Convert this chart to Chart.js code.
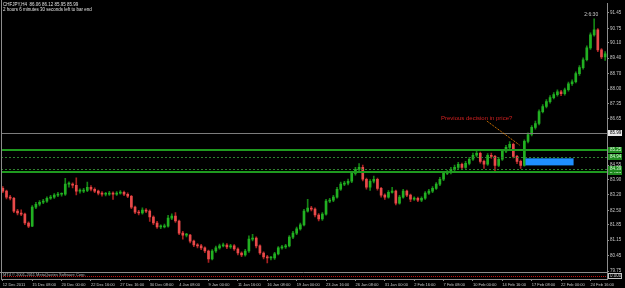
<!DOCTYPE html>
<html>
<head>
<meta charset="utf-8">
<script src="https://cdn.jsdelivr.net/npm/chart.js@4.4.1/dist/chart.umd.min.js"></script>
<style>
  html, body { margin: 0; padding: 0; background: #000; overflow: hidden; }
</style>
</head>
<body>
<canvas id="myChart" width="625" height="288"></canvas>
<script>
// CHFJPY H4, one candle per 8 hours
const tickLabels = ['12 Dec 2011', '15 Dec 08:00', '20 Dec 00:00', '22 Dec 16:00', '27 Dec 16:00',
  '30 Dec 08:00', '4 Jan 08:00', '9 Jan 00:00', '11 Jan 16:00', '16 Jan 08:00', '19 Jan 00:00',
  '23 Jan 16:00', '26 Jan 08:00', '31 Jan 00:00', '2 Feb 16:00', '7 Feb 08:00', '10 Feb 00:00',
  '14 Feb 16:00', '17 Feb 08:00', '22 Feb 00:00', '24 Feb 16:00'];

const closes = [
  83.37, 83.10, 83.05, 82.47, 82.38, 82.33, 81.93, 81.79, 82.65, 82.78,
  82.87, 82.92, 83.05, 83.10, 83.19, 83.23, 83.23, 83.69, 83.69, 83.64,
  83.37, 83.37, 83.41, 83.55, 83.46, 83.37, 83.28, 83.23, 83.23, 83.28,
  83.23, 83.28, 83.32, 83.23, 83.14, 82.65, 82.42, 82.38, 82.51, 82.47,
  82.20, 81.93, 81.75, 81.75, 81.79, 82.15, 82.24, 82.02, 81.47, 81.38,
  81.38, 81.11, 80.93, 80.89, 80.80, 80.66, 80.30, 80.66, 80.80, 80.89,
  80.93, 80.84, 80.89, 80.75, 80.57, 80.48, 80.66, 81.20, 81.25, 80.89,
  80.57, 80.39, 80.34, 80.34, 80.53, 80.80, 80.84, 80.89, 81.29, 81.47,
  81.66, 81.84, 82.47, 82.60, 82.56, 82.29, 82.11, 82.33, 82.92, 82.96,
  83.10, 83.46, 83.69, 83.73, 83.82, 84.18, 84.36, 84.45, 83.91, 83.55,
  83.82, 83.91, 83.50, 83.19, 83.10, 83.32, 83.37, 82.83, 83.10, 83.37,
  83.19, 83.01, 83.05, 82.96, 83.05, 83.28, 83.37, 83.50, 83.69, 83.91,
  84.18, 84.22, 84.36, 84.45, 84.59, 84.45, 84.63, 84.82, 85.00, 85.09,
  84.72, 84.59, 85.00, 84.95, 84.54, 84.82, 85.18, 85.36, 85.49, 84.95,
  84.72, 84.54, 85.63, 85.94, 86.26, 86.44, 86.98, 87.21, 87.43, 87.61,
  87.75, 87.88, 87.79, 87.97, 88.24, 88.33, 88.70, 88.97, 89.33, 89.87,
  90.46, 90.68, 89.78, 89.46, 89.60
];
const opens = [
  83.50, 83.37, 83.10, 83.05, 82.47, 82.38, 82.33, 81.93, 81.79, 82.65,
  82.78, 82.87, 82.92, 83.05, 83.10, 83.19, 83.23, 83.23, 83.69, 83.69,
  83.64, 83.37, 83.37, 83.41, 83.55, 83.46, 83.37, 83.28, 83.23, 83.23,
  83.28, 83.23, 83.28, 83.32, 83.23, 83.14, 82.65, 82.42, 82.38, 82.51,
  82.47, 82.20, 81.93, 81.75, 81.75, 81.79, 82.15, 82.24, 82.02, 81.47,
  81.38, 81.38, 81.11, 80.93, 80.89, 80.80, 80.66, 80.30, 80.66, 80.80,
  80.89, 80.93, 80.84, 80.89, 80.75, 80.57, 80.48, 80.66, 81.20, 81.25,
  80.89, 80.57, 80.39, 80.34, 80.34, 80.53, 80.80, 80.84, 80.89, 81.29,
  81.47, 81.66, 81.84, 82.47, 82.60, 82.56, 82.29, 82.11, 82.33, 82.92,
  82.96, 83.10, 83.46, 83.69, 83.73, 83.82, 84.18, 84.36, 84.45, 83.91,
  83.55, 83.82, 83.91, 83.50, 83.19, 83.10, 83.32, 83.37, 82.83, 83.10,
  83.37, 83.19, 83.01, 83.05, 82.96, 83.05, 83.28, 83.37, 83.50, 83.69,
  83.91, 84.18, 84.22, 84.36, 84.45, 84.59, 84.45, 84.63, 84.82, 85.00,
  85.09, 84.72, 84.59, 85.00, 84.95, 84.54, 84.82, 85.18, 85.36, 85.49,
  84.95, 84.72, 84.54, 85.63, 85.94, 86.26, 86.44, 86.98, 87.21, 87.43,
  87.61, 87.75, 87.88, 87.79, 87.97, 88.24, 88.33, 88.70, 88.97, 89.33,
  89.87, 90.46, 90.68, 89.78, 89.46
];
const highs = [
  83.58, 83.42, 83.18, 83.09, 82.55, 82.52, 82.38, 81.98, 82.72, 82.86,
  82.95, 83.00, 83.12, 83.18, 83.26, 83.32, 83.30, 83.95, 83.80, 83.75,
  83.98, 83.48, 83.50, 83.78, 83.62, 83.52, 83.42, 83.35, 83.32, 83.36,
  83.34, 83.35, 83.40, 83.38, 83.30, 83.18, 82.70, 82.50, 82.62, 82.58,
  82.52, 82.25, 82.00, 81.84, 81.88, 82.28, 82.34, 82.40, 82.06, 81.55,
  81.46, 81.42, 81.16, 81.00, 80.96, 80.85, 80.70, 80.72, 80.88, 80.97,
  81.02, 81.00, 80.96, 80.95, 80.80, 80.62, 80.74, 81.35, 81.42, 81.30,
  80.94, 80.62, 80.46, 80.42, 80.60, 80.86, 80.92, 80.96, 81.36, 81.55,
  81.74, 81.92, 82.55, 83.00, 82.68, 82.62, 82.36, 82.40, 83.00, 83.05,
  83.18, 83.55, 83.78, 83.82, 83.92, 84.26, 84.45, 84.62, 84.55, 83.96,
  83.90, 84.05, 83.96, 83.55, 83.25, 83.40, 83.55, 83.42, 83.18, 83.45,
  83.42, 83.24, 83.12, 83.10, 83.12, 83.35, 83.45, 83.58, 83.76, 84.00,
  84.26, 84.32, 84.45, 84.55, 84.68, 84.64, 84.72, 84.90, 85.10, 85.18,
  85.14, 84.78, 85.08, 85.10, 85.00, 84.90, 85.26, 85.45, 85.62, 85.55,
  85.00, 84.78, 85.70, 86.02, 86.34, 86.55, 87.06, 87.30, 87.52, 87.70,
  87.84, 87.96, 87.94, 88.05, 88.32, 88.42, 88.78, 89.06, 89.42, 89.96,
  90.55, 91.18, 90.74, 89.84, 89.70
];
const lows = [
  83.30, 83.02, 82.98, 82.40, 82.30, 82.26, 81.85, 81.72, 81.76, 82.58,
  82.70, 82.80, 82.86, 83.00, 83.04, 83.12, 83.15, 83.18, 83.55, 83.52,
  83.20, 83.28, 83.30, 83.35, 83.38, 83.30, 83.20, 83.15, 83.16, 83.18,
  83.00, 83.18, 83.24, 83.17, 83.08, 82.58, 82.35, 82.30, 82.33, 82.40,
  82.00, 81.85, 81.68, 81.67, 81.70, 81.74, 82.08, 81.95, 81.40, 81.20,
  81.30, 81.02, 80.85, 80.80, 80.72, 80.58, 80.14, 80.26, 80.60, 80.74,
  80.84, 80.77, 80.78, 80.68, 80.48, 80.40, 80.42, 80.60, 81.12, 80.80,
  80.50, 80.30, 80.12, 80.26, 80.28, 80.48, 80.74, 80.78, 80.84, 81.22,
  81.40, 81.60, 81.80, 82.42, 82.48, 82.20, 82.02, 82.05, 82.28, 82.85,
  82.90, 83.05, 83.40, 83.62, 83.66, 83.76, 84.10, 84.30, 83.84, 83.46,
  83.40, 83.75, 83.42, 83.10, 83.00, 83.05, 83.28, 82.75, 82.78, 83.05,
  83.12, 82.90, 82.95, 82.90, 82.90, 83.00, 83.22, 83.30, 83.45, 83.62,
  83.85, 84.12, 84.15, 84.30, 84.38, 84.38, 84.40, 84.56, 84.76, 84.92,
  84.64, 84.40, 84.54, 84.86, 84.22, 84.48, 84.76, 85.12, 85.30, 84.88,
  84.62, 84.40, 84.50, 85.56, 85.88, 86.18, 86.38, 86.92, 87.14, 87.36,
  87.55, 87.68, 87.70, 87.72, 87.90, 88.16, 88.28, 88.62, 88.90, 89.28,
  89.80, 90.40, 89.70, 89.38, 89.30
];

const yTicks = [91.45, 90.75, 90.10, 89.40, 88.70, 88.00, 87.35, 86.65, 85.95, 85.25,
  84.55, 83.90, 83.20, 82.50, 81.85, 81.15, 80.45, 79.75];

// horizontal levels drawn on the chart
const bidPrice = 85.99;
const greenSolid = [85.25, 84.26];
const greenDotted = [84.94, 84.39];
// blue box: candle range and price range
const boxIdx = [142.3, 155.4];
const boxPrice = [84.54, 84.86];
// orange trendline and its note
const trendIdx = [131.8, 140.7];
const trendPrice = [86.55, 85.46];
const noteText = 'Previous decision in price?';
const noteAt = [119.3, 86.66];
const timerText = '2:6:30';
const timerAt = [160.2, 91.36];

const categories = closes.map((c, i) => i % 8 === 0 ? tickLabels[i / 8] : '');
const isUp = closes.map((c, i) => c >= opens[i]);

const decor = {
  id: 'decor',
  afterDatasetsDraw(chart) {
    const { ctx, chartArea: a, scales: { x, y } } = chart;
    ctx.save();
    const W = chart.width;

    // bid line
    let py = Math.round(y.getPixelForValue(bidPrice)) + 0.5;
    ctx.strokeStyle = '#7c7c7c';
    ctx.lineWidth = 1;
    ctx.beginPath(); ctx.moveTo(a.left, py); ctx.lineTo(a.right, py); ctx.stroke();

    // dotted green levels
    ctx.strokeStyle = '#2f7f2f';
    ctx.setLineDash([2, 2]);
    greenDotted.forEach(p => {
      const yy = Math.round(y.getPixelForValue(p)) + 0.5;
      ctx.beginPath(); ctx.moveTo(a.left, yy); ctx.lineTo(a.right, yy); ctx.stroke();
    });
    ctx.setLineDash([]);
    // solid green levels
    ctx.strokeStyle = '#1f9a1f';
    ctx.lineWidth = 2;
    greenSolid.forEach(p => {
      const yy = Math.round(y.getPixelForValue(p));
      ctx.beginPath(); ctx.moveTo(a.left, yy); ctx.lineTo(a.right, yy); ctx.stroke();
    });

    // blue rectangle
    const bx0 = x.getPixelForValue(boxIdx[0]), bx1 = x.getPixelForValue(boxIdx[1]);
    const by0 = y.getPixelForValue(boxPrice[1]), by1 = y.getPixelForValue(boxPrice[0]);
    ctx.fillStyle = '#1e90ff';
    ctx.fillRect(bx0, by0, bx1 - bx0, by1 - by0);

    // trendline
    ctx.strokeStyle = '#ff8c00';
    ctx.lineWidth = 1;
    ctx.setLineDash([1, 1]);
    ctx.beginPath();
    ctx.moveTo(x.getPixelForValue(trendIdx[0]), y.getPixelForValue(trendPrice[0]));
    ctx.lineTo(x.getPixelForValue(trendIdx[1]), y.getPixelForValue(trendPrice[1]));
    ctx.stroke();
    ctx.setLineDash([]);

    // note text
    ctx.font = '6px "Liberation Sans", Arial, sans-serif';
    ctx.fillStyle = '#d02020';
    ctx.textBaseline = 'middle';
    ctx.textAlign = 'left';
    ctx.fillText(noteText, x.getPixelForValue(noteAt[0]), y.getPixelForValue(noteAt[1]));

    ctx.font = '5px "Liberation Sans", Arial, sans-serif';
    ctx.fillStyle = '#c8c8c8';
    ctx.textAlign = 'center';
    ctx.fillText(timerText, x.getPixelForValue(timerAt[0]), y.getPixelForValue(timerAt[1]));

    // header
    ctx.textAlign = 'left';
    ctx.font = '4.5px "Liberation Sans", Arial, sans-serif';
    ctx.fillStyle = '#e0e0e0';
    ctx.fillText('CHFJPY,H4  86.06 86.12 85.95 85.99', 3, 5);
    ctx.fillText('2 hours 6 minutes 30 seconds left to bar end', 3, 9.5);

    // sub window
    const sep = a.bottom - 6.5;
    ctx.strokeStyle = '#8c8c8c';
    ctx.beginPath(); ctx.moveTo(0, sep); ctx.lineTo(a.right, sep); ctx.stroke();
    ctx.strokeStyle = '#c01010';
    ctx.setLineDash([1, 1]);
    ctx.beginPath(); ctx.moveTo(a.left, a.bottom - 2.5); ctx.lineTo(a.right, a.bottom - 2.5); ctx.stroke();
    ctx.setLineDash([]);
    ctx.fillStyle = '#b0b0b0';
    ctx.font = '4px "Liberation Sans", Arial, sans-serif';
    ctx.fillText('MT4 \u00a9 2001-2011 MetaQuotes Software Corp.', 3, a.bottom - 4);

    // left border
    ctx.strokeStyle = '#8c8c8c';
    ctx.beginPath(); ctx.moveTo(1.5, 0); ctx.lineTo(1.5, a.bottom); ctx.stroke();

    // price boxes on the axis
    const box = (p, bg, fg, txt) => {
      const yy = Math.round(y.getPixelForValue(p));
      ctx.fillStyle = bg;
      ctx.fillRect(a.right + 1, yy - 3, W - a.right - 4, 6);
      ctx.fillStyle = fg;
      ctx.font = '4.5px "Liberation Sans", Arial, sans-serif';
      ctx.textAlign = 'left';
      ctx.fillText(txt, a.right + 3, yy);
    };
    box(bidPrice, '#e8e8e8', '#000', bidPrice.toFixed(2));
    greenSolid.concat(greenDotted).forEach(p => box(p, '#1f8a1f', '#d8ffd8', p.toFixed(2)));
    // sub window value
    ctx.strokeStyle = '#c0c0c0';
    ctx.strokeRect(a.right + 1.5, a.bottom - 5.5, W - a.right - 5, 5);
    ctx.fillStyle = '#d0d0d0';
    ctx.fillText('0.000', a.right + 3, a.bottom - 3);
    ctx.restore();
  }
};

const ctx = document.getElementById('myChart').getContext('2d');
const myChart = new Chart(ctx, {
  type: 'bar',
  data: {
    labels: categories,
    datasets: [{
      label: 'body',
      data: opens.map((o, i) => [o, closes[i]]),
      backgroundColor: isUp.map(u => u ? '#22b022' : '#e84a4a'),
      borderWidth: 0,
      barThickness: 2,
      minBarLength: 1,
      grouped: false
    }, {
      label: 'wick',
      data: lows.map((l, i) => [l, highs[i]]),
      backgroundColor: isUp.map(u => u ? '#148414' : '#a82020'),
      borderWidth: 0,
      barThickness: 1,
      grouped: false
    }]
  },
  options: {
    responsive: false,
    animation: false,
    devicePixelRatio: 1,
    layout: { padding: { left: 1, top: 2, right: 0, bottom: 0 } },
    plugins: { legend: { display: false }, tooltip: { enabled: false } },
    scales: {
      x: {
        offset: true,
        grid: {
          display: true, drawOnChartArea: false, offset: false, tickLength: 2,
          color: c => (c.tick && c.tick.label) ? '#8c8c8c' : 'rgba(0,0,0,0)'
        },
        border: { display: true, color: '#8c8c8c' },
        ticks: {
          autoSkip: false, maxRotation: 0, minRotation: 0, align: 'start', padding: 1,
          color: '#c8c8c8', font: { size: 4, family: '"Liberation Sans", Arial, sans-serif' }
        },
        afterFit: s => { s.height = 9; }
      },
      y: {
        position: 'right',
        min: 79.39,
        max: 91.87,
        afterBuildTicks: s => { s.ticks = yTicks.map(v => ({ value: v })); },
        ticks: {
          autoSkip: false, padding: 1, color: '#c8c8c8',
          font: { size: 4.5, family: '"Liberation Sans", Arial, sans-serif' },
          callback: v => v.toFixed(2)
        },
        grid: { drawOnChartArea: false, tickLength: 2, color: '#8c8c8c' },
        border: { display: true, color: '#8c8c8c' },
        afterFit: s => { s.width = 18; }
      }
    }
  },
  plugins: [decor]
});
</script>
</body>
</html>
